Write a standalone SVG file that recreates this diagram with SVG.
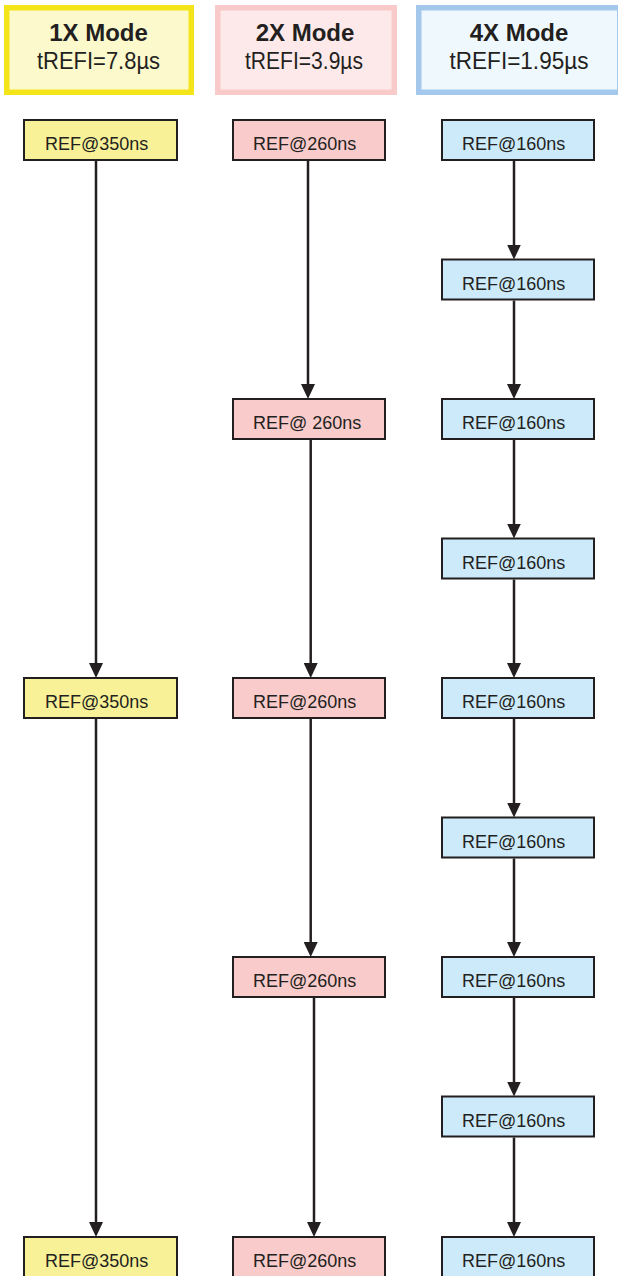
<svg xmlns="http://www.w3.org/2000/svg" width="618" height="1276" viewBox="0 0 618 1276">
  <style>
    .hdr { stroke-width: 5.5; }
    .h1 { fill: #fcf9cc; stroke: #f4e51b; }
    .h2 { fill: #fde9e9; stroke: #f9caca; }
    .h4 { fill: #eff8fd; stroke: #a3c8ec; }
    .title { font-family: "Liberation Sans", Arial, sans-serif; font-size: 24px; font-weight: bold; fill: #231f20; text-anchor: middle; }
    .sub { font-family: "Liberation Sans", Arial, sans-serif; font-size: 24px; fill: #231f20; text-anchor: middle; }
    .node { stroke: #231f20; stroke-width: 2; }
    .y { fill: #f8f198; }
    .p { fill: #f9cbcb; }
    .b { fill: #cdeafa; }
    .lbl { font-family: "Liberation Sans", Arial, sans-serif; font-size: 18px; fill: #231f20; }
    .arr { stroke: #231f20; stroke-width: 2.5; fill: none; marker-end: url(#ah); }
  </style>
  <defs>
    <marker id="ah" markerUnits="userSpaceOnUse" markerWidth="15" markerHeight="14" refX="7" refY="7" orient="auto" viewBox="0 0 15 14">
      <path d="M0,0 L15,7 L0,14 z" fill="#231f20"/>
    </marker>
  </defs>
  <rect width="618" height="1276" fill="#ffffff"/>

  <g id="header-1x">
    <rect class="hdr h1" x="6.75" y="7.75" width="184.5" height="84.5"/>
    <text class="title" x="98.5" y="41">1X Mode</text>
    <text class="sub" x="98.5" y="69" textLength="123" lengthAdjust="spacingAndGlyphs">tREFI=7.8µs</text>
  </g>
  <g id="header-2x">
    <rect class="hdr h2" x="217.75" y="7.75" width="176.5" height="84.5"/>
    <text class="title" x="305" y="41">2X Mode</text>
    <text class="sub" x="304" y="69" textLength="118" lengthAdjust="spacingAndGlyphs">tREFI=3.9µs</text>
  </g>
  <g id="header-4x">
    <rect class="hdr h4" x="418.75" y="7.75" width="201" height="84.5"/>
    <text class="title" x="519" y="41">4X Mode</text>
    <text class="sub" x="519" y="69" textLength="139" lengthAdjust="spacingAndGlyphs">tREFI=1.95µs</text>
  </g>

  <g id="connectors">
    <line class="arr" x1="96" y1="161" x2="96" y2="670"/>
    <line class="arr" x1="96" y1="719" x2="96" y2="1229"/>

    <line class="arr" x1="308" y1="161" x2="308" y2="391"/>
    <line class="arr" x1="310.7" y1="440" x2="310.7" y2="670"/>
    <line class="arr" x1="310.7" y1="719" x2="310.7" y2="949"/>
    <line class="arr" x1="314" y1="998" x2="314" y2="1229"/>

    <line class="arr" x1="514" y1="161" x2="514" y2="251.5"/>
    <line class="arr" x1="514" y1="300.5" x2="514" y2="391"/>
    <line class="arr" x1="514" y1="440" x2="514" y2="530.5"/>
    <line class="arr" x1="514" y1="579.5" x2="514" y2="670"/>
    <line class="arr" x1="514" y1="719" x2="514" y2="809.5"/>
    <line class="arr" x1="514" y1="858.5" x2="514" y2="949"/>
    <line class="arr" x1="514" y1="998" x2="514" y2="1088.5"/>
    <line class="arr" x1="514" y1="1137.5" x2="514" y2="1229"/>
  </g>

  <g id="n1x-1"><rect class="node y" x="24" y="120" width="153" height="40"/><text class="lbl" x="45" y="150">REF@350ns</text></g>
  <g id="n1x-2"><rect class="node y" x="24" y="678" width="153" height="40"/><text class="lbl" x="45" y="708">REF@350ns</text></g>
  <g id="n1x-3"><rect class="node y" x="24" y="1237" width="153" height="40"/><text class="lbl" x="45" y="1267">REF@350ns</text></g>

  <g id="n2x-1"><rect class="node p" x="233" y="120" width="152" height="40"/><text class="lbl" x="253" y="150">REF@260ns</text></g>
  <g id="n2x-2"><rect class="node p" x="233" y="399" width="152" height="40"/><text class="lbl" x="253" y="429">REF@ 260ns</text></g>
  <g id="n2x-3"><rect class="node p" x="233" y="678" width="152" height="40"/><text class="lbl" x="253" y="708">REF@260ns</text></g>
  <g id="n2x-4"><rect class="node p" x="233" y="957" width="152" height="40"/><text class="lbl" x="253" y="987">REF@260ns</text></g>
  <g id="n2x-5"><rect class="node p" x="233" y="1237" width="152" height="40"/><text class="lbl" x="253" y="1267">REF@260ns</text></g>

  <g id="n4x-1"><rect class="node b" x="442" y="120" width="152" height="40"/><text class="lbl" x="462" y="150">REF@160ns</text></g>
  <g id="n4x-2"><rect class="node b" x="442" y="259.5" width="152" height="40"/><text class="lbl" x="462" y="289.5">REF@160ns</text></g>
  <g id="n4x-3"><rect class="node b" x="442" y="399" width="152" height="40"/><text class="lbl" x="462" y="429">REF@160ns</text></g>
  <g id="n4x-4"><rect class="node b" x="442" y="538.5" width="152" height="40"/><text class="lbl" x="462" y="568.5">REF@160ns</text></g>
  <g id="n4x-5"><rect class="node b" x="442" y="678" width="152" height="40"/><text class="lbl" x="462" y="708">REF@160ns</text></g>
  <g id="n4x-6"><rect class="node b" x="442" y="817.5" width="152" height="40"/><text class="lbl" x="462" y="847.5">REF@160ns</text></g>
  <g id="n4x-7"><rect class="node b" x="442" y="957" width="152" height="40"/><text class="lbl" x="462" y="987">REF@160ns</text></g>
  <g id="n4x-8"><rect class="node b" x="442" y="1096.5" width="152" height="40"/><text class="lbl" x="462" y="1126.5">REF@160ns</text></g>
  <g id="n4x-9"><rect class="node b" x="442" y="1237" width="152" height="40"/><text class="lbl" x="462" y="1267">REF@160ns</text></g>
</svg>
